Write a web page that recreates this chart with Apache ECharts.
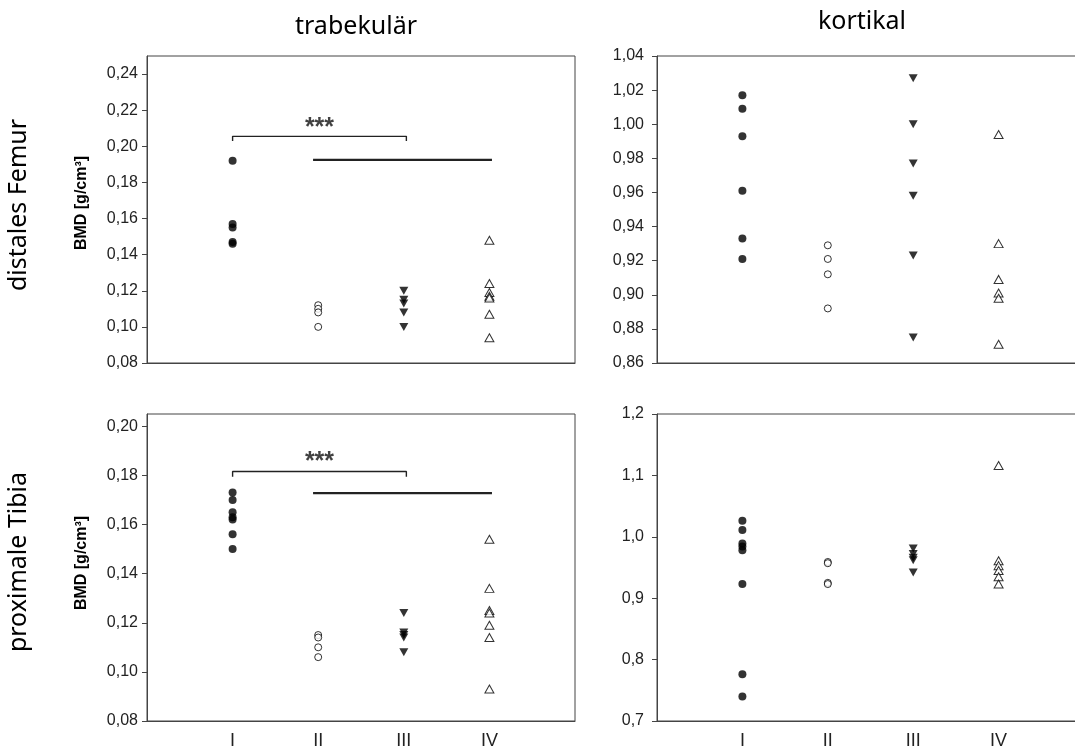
<!DOCTYPE html>
<html>
<head>
<meta charset="utf-8">
<script src="https://cdn.jsdelivr.net/npm/echarts@6/dist/echarts.min.js"></script>
<style>
  html, body { margin: 0; padding: 0; background: #fff; }
  #chart { width: 1075px; height: 749px; }
</style>
</head>
<body>
<div id="chart"></div>
<script>
// Groups shown on the x axis
const groups = ['I', 'II', 'III', 'IV'];

// Distales Femur, trabekulär BMD [g/cm³]
const femurTrabI   = [0.192, 0.157, 0.155, 0.147, 0.146];
const femurTrabII  = [0.112, 0.110, 0.108, 0.100];
const femurTrabIII = [0.120, 0.115, 0.113, 0.108, 0.100];
const femurTrabIV  = [0.148, 0.124, 0.119, 0.117, 0.116, 0.107, 0.094];

// Distales Femur, kortikal BMD [g/cm³]
const femurKortI   = [1.017, 1.009, 0.993, 0.961, 0.933, 0.921];
const femurKortII  = [0.929, 0.921, 0.912, 0.892];
const femurKortIII = [1.027, 1.000, 0.977, 0.958, 0.923, 0.875];
const femurKortIV  = [0.994, 0.930, 0.909, 0.901, 0.898, 0.871];

// Proximale Tibia, trabekulär BMD [g/cm³]
const tibiaTrabI   = [0.173, 0.170, 0.165, 0.163, 0.162, 0.156, 0.150];
const tibiaTrabII  = [0.115, 0.114, 0.110, 0.106];
const tibiaTrabIII = [0.124, 0.116, 0.115, 0.114, 0.108];
const tibiaTrabIV  = [0.154, 0.134, 0.125, 0.124, 0.119, 0.114, 0.093];

// Proximale Tibia, kortikal BMD [g/cm³]
const tibiaKortI   = [1.026, 1.011, 0.989, 0.984, 0.978, 0.923, 0.776, 0.740];
const tibiaKortII  = [0.959, 0.957, 0.925, 0.923];
const tibiaKortIII = [0.981, 0.972, 0.966, 0.962, 0.942];
const tibiaKortIV  = [1.116, 0.961, 0.953, 0.945, 0.935, 0.923];

// Tick labels of the y axes
const femurTrabTicks = [0.08, 0.10, 0.12, 0.14, 0.16, 0.18, 0.20, 0.22, 0.24];
const femurKortTicks = [0.86, 0.88, 0.90, 0.92, 0.94, 0.96, 0.98, 1.00, 1.02, 1.04];
const tibiaTrabTicks = [0.08, 0.10, 0.12, 0.14, 0.16, 0.18, 0.20];
const tibiaKortTicks = [0.7, 0.8, 0.9, 1.0, 1.1, 1.2];

// Significance marks (group I vs. II–IV): bracket over I..III, bar over II..IV
const femurSig = { from: 1, to: 3.03, level: 0.2055, drop: 0.0026, starY: 0.2127, barFrom: 1.94, barTo: 4.03, barLevel: 0.1925 };
const tibiaSig = { from: 1, to: 3.03, level: 0.1816, drop: 0.0021, starY: 0.1874, barFrom: 1.94, barTo: 4.03, barLevel: 0.1728 };

const INK = '#444';
const LABEL_FONT = "'Liberation Sans', Arial, sans-serif";
const HEAD_FONT = "'Noto Sans', 'Open Sans', sans-serif";

const grids = [
  { left: 147, top: 56,  width: 428, height: 307 },
  { left: 657, top: 56,  width: 427, height: 307 },
  { left: 147, top: 414, width: 428, height: 307 },
  { left: 657, top: 414, width: 427, height: 307 }
].map(g => Object.assign({
  show: true, borderColor: INK, borderWidth: 1, backgroundColor: 'transparent',
  containLabel: false, outerBoundsMode: 'none'
}, g));

function xAxis(gridIndex, showLabels) {
  return {
    type: 'value', gridIndex, min: 0, max: 5,
    axisLine: { show: true, lineStyle: { color: INK, width: 1 } },
    axisTick: { show: false },
    splitLine: { show: false },
    axisLabel: {
      show: showLabels, customValues: [1, 2, 3, 4],
      formatter: v => groups[Math.round(v) - 1] || '',
      fontFamily: "'Liberation Sans Narrow', 'Liberation Sans', Arial, sans-serif",
      fontSize: 18, color: '#222', margin: 11
    }
  };
}

function yAxis(gridIndex, min, max, ticks, decimals, margin) {
  return {
    type: 'value', gridIndex, min, max,
    axisLine: { show: true, lineStyle: { color: INK, width: 1 } },
    axisTick: { show: true, inside: false, length: 5, customValues: ticks, lineStyle: { color: INK } },
    splitLine: { show: false },
    axisLabel: {
      customValues: ticks,
      formatter: v => v.toFixed(decimals).replace('.', ','),
      fontFamily: LABEL_FONT, fontSize: 16, color: '#222', margin
    }
  };
}

const markerStyles = [
  { symbol: 'circle', symbolSize: 8, itemStyle: { color: '#000' } },
  { symbol: 'circle', symbolSize: 7, itemStyle: { color: '#fff', borderColor: '#000', borderWidth: 1 } },
  { symbol: 'triangle', symbolSize: [9, 8], symbolRotate: 180, itemStyle: { color: '#000' } },
  { symbol: 'triangle', symbolSize: [9, 8], itemStyle: { color: '#fff', borderColor: '#000', borderWidth: 1 } }
];

function groupSeries(panel, lists) {
  return lists.map((vals, i) => Object.assign({
    type: 'scatter', xAxisIndex: panel, yAxisIndex: panel,
    data: vals.map(v => [i + 1, v]),
    silent: true, z: 3 + i
  }, markerStyles[i]));
}

function sigSeries(panel, s) {
  return [
    {
      type: 'line', xAxisIndex: panel, yAxisIndex: panel, silent: true, symbol: 'none',
      data: [[s.from, s.level - s.drop], [s.from, s.level], [s.to, s.level], [s.to, s.level - s.drop]],
      lineStyle: { color: '#222', width: 1.4 }
    },
    {
      type: 'line', xAxisIndex: panel, yAxisIndex: panel, silent: true, symbol: 'none',
      data: [[s.barFrom, s.barLevel], [s.barTo, s.barLevel]],
      lineStyle: { color: '#222', width: 2.3 }
    },
    {
      type: 'scatter', xAxisIndex: panel, yAxisIndex: panel, silent: true, symbolSize: 0,
      data: [[(s.from + s.to) / 2, s.starY]],
      label: {
        show: true, position: 'inside', formatter: '***', offset: [0, 5],
        fontFamily: LABEL_FONT, fontSize: 25, fontWeight: 'bold', color: '#111'
      }
    }
  ];
}

const headText = (x, y, text, rot, font) => ({
  type: 'text', x, y, rotation: rot || 0, silent: true,
  style: Object.assign({ text, textAlign: 'center', textVerticalAlign: 'middle', fill: '#000' }, font)
});

const option = {
  animation: false,
  backgroundColor: '#fff',
  grid: grids,
  xAxis: [xAxis(0, false), xAxis(1, false), xAxis(2, true), xAxis(3, true)],
  yAxis: [
    yAxis(0, 0.08, 0.25, femurTrabTicks, 2, 9),
    yAxis(1, 0.86, 1.04, femurKortTicks, 2, 13),
    yAxis(2, 0.08, 0.205, tibiaTrabTicks, 2, 9),
    yAxis(3, 0.7, 1.2, tibiaKortTicks, 1, 13)
  ],
  series: [].concat(
    groupSeries(0, [femurTrabI, femurTrabII, femurTrabIII, femurTrabIV]),
    groupSeries(1, [femurKortI, femurKortII, femurKortIII, femurKortIV]),
    groupSeries(2, [tibiaTrabI, tibiaTrabII, tibiaTrabIII, tibiaTrabIV]),
    groupSeries(3, [tibiaKortI, tibiaKortII, tibiaKortIII, tibiaKortIV]),
    sigSeries(0, femurSig),
    sigSeries(2, tibiaSig)
  ),
  graphic: [
    headText(356, 27, 'trabekulär', 0, { font: "25px " + HEAD_FONT }),
    headText(862, 22, 'kortikal', 0, { font: "25px " + HEAD_FONT }),
    headText(19, 205, 'distales Femur', Math.PI / 2, { font: "25px " + HEAD_FONT }),
    headText(19, 562, 'proximale Tibia', Math.PI / 2, { font: "25px " + HEAD_FONT }),
    headText(82, 203, 'BMD [g/cm³]', Math.PI / 2, { font: "bold 16px " + LABEL_FONT }),
    headText(82, 563, 'BMD [g/cm³]', Math.PI / 2, { font: "bold 16px " + LABEL_FONT })
  ]
};

const chart = echarts.init(document.getElementById('chart'), null, { renderer: 'canvas' });
chart.setOption(option);
</script>
</body>
</html>
